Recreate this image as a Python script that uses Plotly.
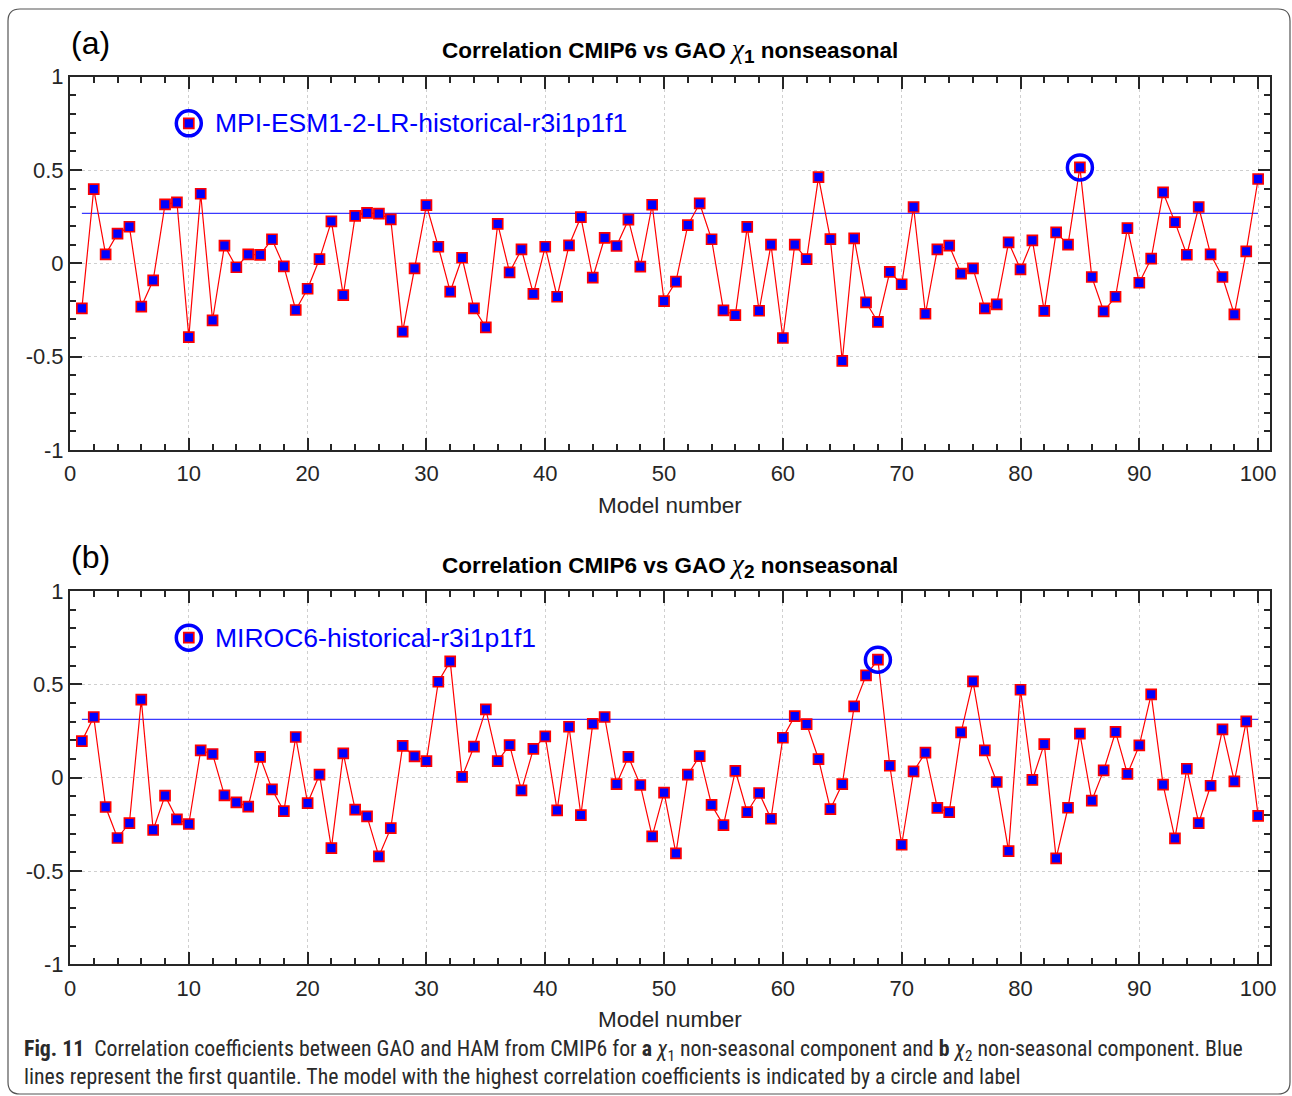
import plotly.graph_objects as go

W, H = 1292, 1096

# Model index (x axis)
model_number = list(range(1, 101))

# Correlation CMIP6 vs GAO, chi_1 non-seasonal
corr_chi1 = [
    -0.241, 0.398, 0.048, 0.159, 0.196, -0.232, -0.091, 0.316, 0.327, -0.395,
    0.373, -0.305, 0.095, -0.021, 0.048, 0.045, 0.129, -0.016, -0.250, -0.136,
    0.023, 0.225, -0.170, 0.254, 0.270, 0.266, 0.236, -0.366, -0.027, 0.312,
    0.089, -0.152, 0.030, -0.241, -0.343, 0.211, -0.048, 0.075, -0.164, 0.089,
    -0.179, 0.096, 0.248, -0.077, 0.137, 0.093, 0.234, -0.018, 0.314, -0.202,
    -0.098, 0.205, 0.321, 0.129, -0.252, -0.277, 0.195, -0.254, 0.100, -0.400,
    0.100, 0.023, 0.462, 0.130, -0.523, 0.134, -0.209, -0.314, -0.046, -0.112,
    0.302, -0.270, 0.075, 0.095, -0.055, -0.027, -0.241, -0.220, 0.112, -0.032,
    0.123, -0.255, 0.166, 0.100, 0.514, -0.073, -0.257, -0.179, 0.189, -0.104,
    0.025, 0.380, 0.221, 0.046, 0.302, 0.048, -0.073, -0.273, 0.064, 0.452,
]

# Correlation CMIP6 vs GAO, chi_2 non-seasonal
corr_chi2 = [
    0.196, 0.325, -0.157, -0.323, -0.243, 0.418, -0.280, -0.096, -0.223, -0.248,
    0.146, 0.127, -0.095, -0.132, -0.155, 0.112, -0.062, -0.179, 0.218, -0.136,
    0.016, -0.377, 0.130, -0.171, -0.207, -0.421, -0.270, 0.170, 0.114, 0.089,
    0.514, 0.623, 0.004, 0.166, 0.366, 0.089, 0.175, -0.068, 0.154, 0.221,
    -0.175, 0.273, -0.200, 0.289, 0.325, -0.034, 0.112, -0.039, -0.314, -0.080,
    -0.405, 0.016, 0.116, -0.146, -0.254, 0.037, -0.184, -0.082, -0.220, 0.214,
    0.330, 0.287, 0.100, -0.168, -0.034, 0.382, 0.548, 0.632, 0.064, -0.359,
    0.034, 0.134, -0.162, -0.184, 0.243, 0.516, 0.146, -0.023, -0.393, 0.471,
    -0.012, 0.180, -0.432, -0.161, 0.236, -0.123, 0.039, 0.245, 0.020, 0.173,
    0.446, -0.037, -0.325, 0.048, -0.243, -0.043, 0.259, -0.020, 0.302, -0.204,
]

# First-quantile reference levels
quantile_chi1 = 0.268
quantile_chi2 = 0.3125

best_label_chi1 = "MPI-ESM1-2-LR-historical-r3i1p1f1"
best_label_chi2 = "MIROC6-historical-r3i1p1f1"

y_ticks = [-1, -0.5, 0, 0.5, 1]
y_tick_text = ["-1", "-0.5", "0", "0.5", "1"]
x_ticks = [0, 10, 20, 30, 40, 50, 60, 70, 80, 90, 100]

BLUE = "#0000ff"
RED = "#ff0000"
AX = "#262626"
SANS = "Liberation Sans, Arial, Helvetica, sans-serif"


def px(x):
    return x / W


def py(y):
    return 1 - y / H


fig = go.Figure()

panels = [
    dict(vals=corr_chi1, q=quantile_chi1, label=best_label_chi1, xa="x", ya="y"),
    dict(vals=corr_chi2, q=quantile_chi2, label=best_label_chi2, xa="x2", ya="y2"),
]

SQUARE = dict(symbol="square", size=10, color=BLUE, line=dict(color=RED, width=1.7))
RING = dict(symbol="circle-open", size=25, color=BLUE, line=dict(color=BLUE, width=3.5))

for p in panels:
    vals = p["vals"]
    best = max(range(len(vals)), key=lambda i: vals[i])
    # quantile line
    fig.add_trace(go.Scatter(
        x=[model_number[0], model_number[-1]], y=[p["q"], p["q"]],
        mode="lines", line=dict(color="#3a3aff", width=1.4),
        xaxis=p["xa"], yaxis=p["ya"], showlegend=False, hoverinfo="skip"))
    # correlation series
    fig.add_trace(go.Scatter(
        x=model_number, y=vals, mode="lines+markers",
        line=dict(color=RED, width=1.2), marker=SQUARE,
        xaxis=p["xa"], yaxis=p["ya"], showlegend=False))
    # highlight circle on the best model
    fig.add_trace(go.Scatter(
        x=[model_number[best]], y=[vals[best]], mode="markers", marker=RING,
        xaxis=p["xa"], yaxis=p["ya"], showlegend=False))
    # key symbol (circle + square) next to the model name
    fig.add_trace(go.Scatter(
        x=[10], y=[0.75], mode="markers", marker=RING,
        xaxis=p["xa"], yaxis=p["ya"], showlegend=False))
    fig.add_trace(go.Scatter(
        x=[10], y=[0.75], mode="markers", marker=SQUARE,
        xaxis=p["xa"], yaxis=p["ya"], showlegend=False))
    fig.add_annotation(
        x=12.0, y=0.75, xref=p["xa"], yref=p["ya"], text=p["label"],
        showarrow=False, xanchor="left", yanchor="middle",
        font=dict(family=SANS, size=26.5, color=BLUE))


def xaxis_cfg(domain_y_anchor):
    return dict(
        domain=[px(70), px(1270)], anchor=domain_y_anchor, automargin=False,
        range=[0, 101], tickvals=x_ticks, ticks="inside", ticklen=12,
        tickwidth=1.5, tickcolor=AX, showline=True, linecolor=AX,
        linewidth=2, mirror="ticks", showgrid=True, gridcolor="#cfcfcf",
        griddash="dot", gridwidth=1, zeroline=False, ticklabelstandoff=3,
        tickfont=dict(family=SANS, size=22, color=AX),
        minor=dict(dtick=2, ticks="inside", ticklen=6, tickcolor=AX,
                   tickwidth=1.5, showgrid=False),
    )


def yaxis_cfg(top, bottom, x_anchor):
    return dict(
        domain=[py(bottom), py(top)], anchor=x_anchor, automargin=False,
        range=[-1, 1], tickvals=y_ticks, ticktext=y_tick_text,
        ticks="inside", ticklen=12, tickwidth=1.5, tickcolor=AX,
        showline=True, linecolor=AX, linewidth=2, mirror="ticks",
        showgrid=True, gridcolor="#cfcfcf", griddash="dot", gridwidth=1,
        zeroline=False, tickfont=dict(family=SANS, size=22, color=AX),
        minor=dict(dtick=0.1, ticks="inside", ticklen=6, tickcolor=AX,
                   tickwidth=1.5, showgrid=False),
    )


fig.update_layout(
    width=W, height=H, autosize=False,
    margin=dict(l=0, r=0, t=0, b=0, pad=0, autoexpand=False),
    paper_bgcolor="white", plot_bgcolor="white",
    xaxis=xaxis_cfg("y"), yaxis=yaxis_cfg(76.7, 450, "x"),
    xaxis2=xaxis_cfg("y2"), yaxis2=yaxis_cfg(591, 964.4, "x2"),
    showlegend=False,
)

chi = ("<span style='font-family:Liberation Serif, Times New Roman, serif;"
       "font-weight:normal;font-size:27px'><i>χ</i></span>")
titles = [
    (50, 43, "(a)", 505, "1"),
    (565, 557, "(b)", 1019, "2"),
]
for ty, ly, lab, xly, sub in titles:
    fig.add_annotation(
        x=px(670), y=py(ty), xref="paper", yref="paper", showarrow=False,
        xanchor="center", yanchor="middle",
        text=(f"<b>Correlation CMIP6 vs GAO</b> {chi}"
              f"<sub><span style='font-size:19px'><b>{sub}</b></span></sub>"
              f" <b>nonseasonal</b>"),
        font=dict(family=SANS, size=22.5, color="black"))
    fig.add_annotation(
        x=px(69), y=py(ly), xref="paper", yref="paper", showarrow=False,
        xanchor="left", yanchor="middle", text=lab,
        font=dict(family=SANS, size=32, color="black"))
    fig.add_annotation(
        x=px(670), y=py(xly), xref="paper", yref="paper", showarrow=False,
        xanchor="center", yanchor="middle", text="Model number",
        font=dict(family=SANS, size=22.5, color=AX))

CAP = "Liberation Sans Narrow, Arial Narrow, Roboto Condensed, Liberation Sans, sans-serif"
cap_chi = "<i>χ</i>"
caption1 = (f"<b>Fig. 11</b>  Correlation coefficients between GAO and HAM from CMIP6 for "
            f"<b>a</b> {cap_chi}<sub>1</sub> non-seasonal component and <b>b</b> "
            f"{cap_chi}<sub>2</sub> non-seasonal component. Blue")
caption2 = ("lines represent the first quantile. The model with the highest correlation "
            "coefficients is indicated by a circle and label")
fig.add_annotation(x=px(22), y=py(1050), xref="paper", yref="paper",
                   showarrow=False, xanchor="left", yanchor="middle",
                   text=caption1, font=dict(family=CAP, size=21.8, color="#2a2a2a"))
fig.add_annotation(x=px(22), y=py(1076), xref="paper", yref="paper",
                   showarrow=False, xanchor="left", yanchor="middle",
                   text=caption2, font=dict(family=CAP, size=21.8, color="#2a2a2a"))

# rounded outer frame
x0, x1, y0, y1 = px(8), px(1290), py(9), py(1094)
rx, ry = 12 / W, 12 / H
path = (f"M {x0+rx},{y0} L {x1-rx},{y0} Q {x1},{y0} {x1},{y0-ry} "
        f"L {x1},{y1+ry} Q {x1},{y1} {x1-rx},{y1} L {x0+rx},{y1} "
        f"Q {x0},{y1} {x0},{y1+ry} L {x0},{y0-ry} Q {x0},{y0} {x0+rx},{y0} Z")
fig.add_shape(type="path", path=path, xref="paper", yref="paper",
              line=dict(color="#555555", width=1.2), layer="below")

# page without body margin so the figure fills the window exactly
fig.write_html(
    "out.html",
    post_script=("document.documentElement.style.margin='0';"
                 "document.body.style.margin='0';"
                 "document.body.style.overflow='hidden';"),
)
